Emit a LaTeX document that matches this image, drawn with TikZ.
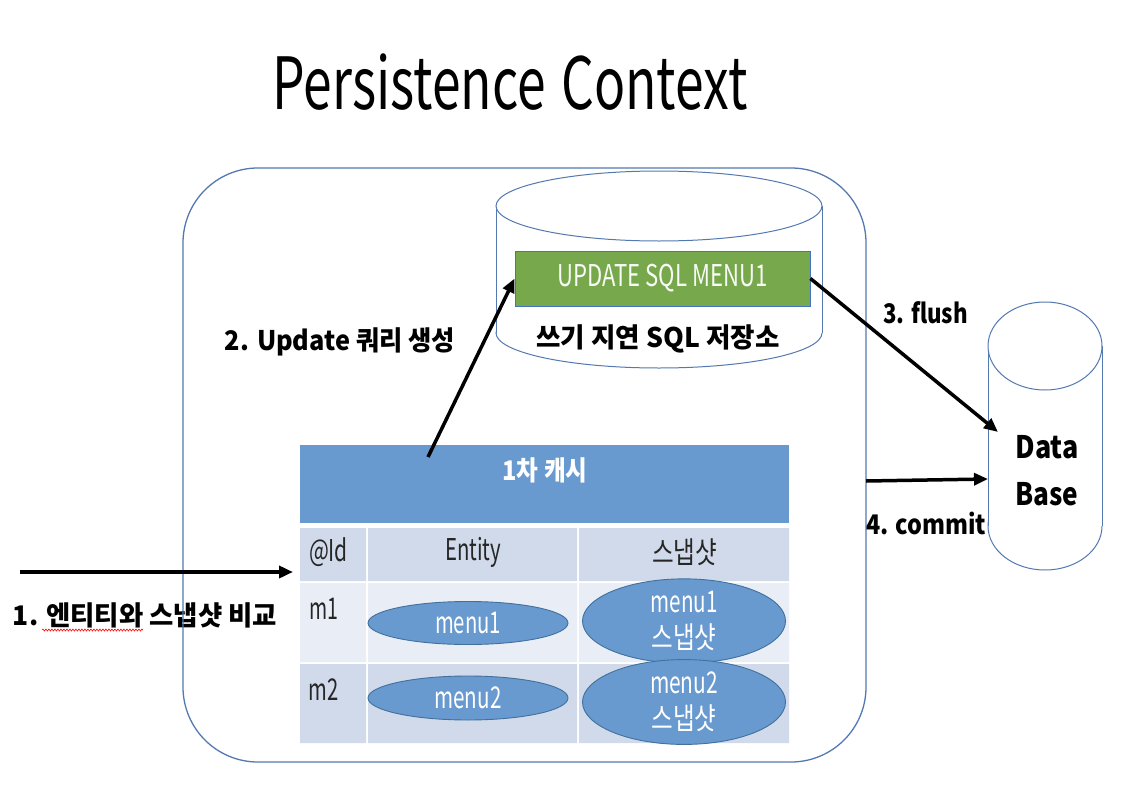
\documentclass[tikz,border=0pt]{standalone}
\usepackage{fontspec}
\setmainfont{Noto Sans CJK KR}
\usetikzlibrary{arrows.meta,shapes.geometric,decorations.pathmorphing}
\definecolor{frameC}{HTML}{5479B0}
\definecolor{hdrC}{HTML}{6899CF}
\definecolor{rowD}{HTML}{D0DAEA}
\definecolor{rowL}{HTML}{E9EEF6}
\definecolor{ellC}{HTML}{6899CF}
\definecolor{ellB}{HTML}{41719C}
\definecolor{grnC}{HTML}{77A84B}
\definecolor{grnB}{HTML}{4472C4}
\definecolor{txtC}{HTML}{262626}
\newcommand\fw[2]{\resizebox{#1pt}{\height}{#2}}
\begin{document}
\begin{tikzpicture}[x=1pt,y=-1pt,
  lbl/.style={inner sep=0pt, font=\fontsize{27}{27}\selectfont\bfseries},
  celltxt/.style={inner sep=0pt, font=\fontsize{30}{30}\selectfont, text=txtC},
  ell/.style={ellipse, draw=ellB, fill=ellC, line width=0.9pt, inner sep=0pt, text=white,
    align=center, font=\fontsize{30}{36}\selectfont},
  arr/.style={line width=3.5pt, -{Triangle[length=14pt,width=12pt]}},
  shapeline/.style={draw=frameC, line width=1pt}
]
\useasboundingbox (0,0) rectangle (1132,808);
\fill[white] (0,0) rectangle (1132,808);

% title
\node[inner sep=0pt] (title) at (510,82) {\fontsize{72}{72}\selectfont\fw{475}{Persistence\hspace{6pt} Context}};

% label 1 (behind frame line)
\node[lbl] (l1) at (145,615) {\fw{264}{1. 엔티티와 스냅샷 비교}};
\draw[red, line width=0.6pt, decorate, decoration={snake, amplitude=1pt, segment length=3pt}] (42,630) -- (143,630);

% frame
\draw[frameC, line width=1.3pt, rounded corners=75pt] (183,168) rectangle (866,762);

% SQL store cylinder
\filldraw[fill=white, shapeline] (659,333) ellipse [x radius=163, y radius=35];
\fill[white] (496,206) rectangle (822,333);
\draw[shapeline] (496,206) -- (496,333) (822,206) -- (822,333);
\filldraw[fill=white, shapeline] (659,206) ellipse [x radius=163, y radius=35];
\node[draw=grnB, fill=grnC, line width=0.8pt, minimum width=295pt, minimum height=55pt, inner sep=0pt]
  (sql) at (662.5,278.5) {\fontsize{30}{30}\selectfont\color{white!95!grnC}\fw{210}{UPDATE SQL MENU1}};
\node[lbl] (store) at (658,339) {\fw{243}{쓰기 지연 SQL 저장소}};

% Database cylinder
\filldraw[fill=white, shapeline] (1045,526) ellipse [x radius=57, y radius=44];
\fill[white] (988,346) rectangle (1102,526);
\draw[shapeline] (988,346) -- (988,526) (1102,346) -- (1102,526);
\filldraw[fill=white, shapeline] (1045,346) ellipse [x radius=57, y radius=44];
\node[lbl, font=\fontsize{31}{31}\selectfont\bfseries] (data) at (1047,447) {\fw{63}{Data}};
\node[lbl, font=\fontsize{31}{31}\selectfont\bfseries] (base) at (1047,494) {\fw{63}{Base}};

% first-level cache table
\fill[hdrC] (300,445) rectangle (789,523);
\node[lbl, text=white] (cache) at (545,470) {\fw{85}{1차 캐시}};
\fill[rowD] (300,528) rectangle (366,581) (368,528) rectangle (577,581) (579,528) rectangle (789,581);
\fill[rowL] (300,583) rectangle (366,662) (368,583) rectangle (577,662) (579,583) rectangle (789,662);
\fill[rowD] (300,664) rectangle (366,743) (368,664) rectangle (577,743) (579,664) rectangle (789,743);
\node[celltxt] (hid) at (328.5,552) {\fw{39}{@Id}};
\node[celltxt] (hent) at (473,552) {\fw{56}{Entity}};
\node[celltxt] (hsnap) at (684.5,552) {\fw{65}{스냅샷}};
\node[celltxt] (m1) at (323.5,609) {\fw{29}{m1}};
\node[celltxt] (m2) at (323.5,690) {\fw{30}{m2}};
\node[ell, minimum width=200pt, minimum height=43pt] (e1) at (468,623) {\fw{66}{menu1}};
\node[ell, minimum width=203pt, minimum height=73pt] (s1) at (684,621) {\fw{67}{menu1}\\\fw{65}{스냅샷}};
\node[ell, minimum width=200pt, minimum height=44pt] (e2) at (468,698) {\fw{67}{menu2}};
\node[ell, minimum width=203pt, minimum height=71pt] (s2) at (684,702) {\fw{68}{menu2}\\\fw{65}{스냅샷}};

% labels
\node[lbl] (l2) at (340,342) {\fw{230}{2. Update 쿼리 생성}};
\node[lbl] (l3) at (925.5,313) {\fw{85}{3. flush}};
\node[lbl] (l4) at (926,523) {\fw{120}{4. commit}};

% connectors
\coordinate (a1s) at (20,572);
\coordinate (a1e) at (293,572);
\coordinate (a2s) at (428,457);
\coordinate (a3e) at (998,432);
\coordinate (a4s) at (866,481);
\coordinate (a4e) at (988,479);
\draw[arr] (a1s) -- (a1e);
\draw[arr] (a2s) -- (sql.west);
\draw[arr] (sql.east) -- (a3e);
\draw[arr] (a4s) -- (a4e);
\end{tikzpicture}
\end{document}
